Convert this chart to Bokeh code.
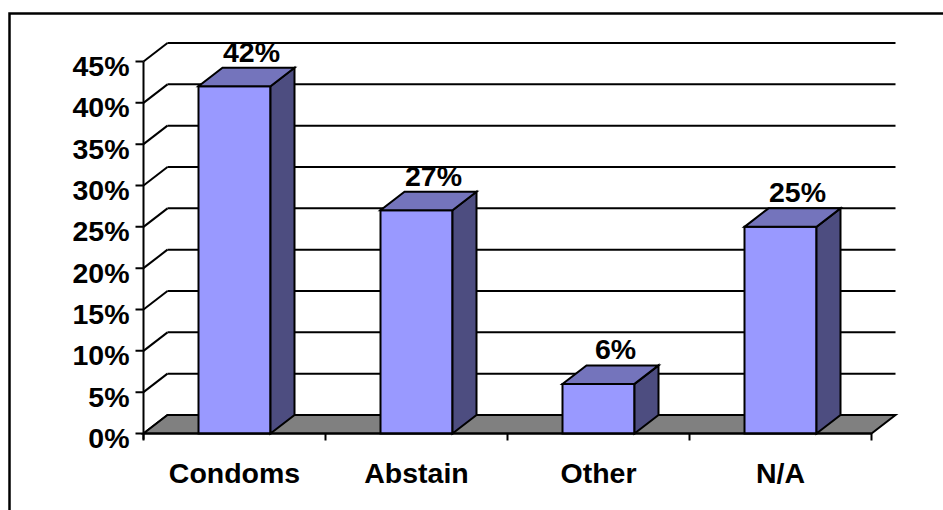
from bokeh.plotting import figure
from bokeh.models import Range1d, ColumnDataSource
from bokeh.core.properties import value
from bokeh.embed import file_html
from bokeh.resources import INLINE

# ---- data ----
categories = ["Condoms", "Abstain", "Other", "N/A"]
values = [42, 27, 6, 25]
value_labels = ["42%", "27%", "6%", "25%"]
y_ticks = [0, 5, 10, 15, 20, 25, 30, 35, 40, 45]
y_tick_labels = ["0%", "5%", "10%", "15%", "20%", "25%", "30%", "35%", "40%", "45%"]

# ---- geometry (pixel-based styling constants) ----
W, H = 943, 510
X0_PX = 143          # frame x of the front value axis
CAT_PX = 182         # pixels per category
Y0_PX = 433          # frame y (from top) of 0 %
PCT_PX = 372 / 45    # pixels per percent
DX = 24 / CAT_PX     # depth offset (x)
DY = 18.5 / PCT_PX   # depth offset (y)
BAR_W = 72 / CAT_PX
N = len(categories)

def px_x(px):
    return px / CAT_PX

def px_y(px):
    return px / PCT_PX

x_range = Range1d(-X0_PX / CAT_PX, (W - X0_PX) / CAT_PX)
y_range = Range1d(-(H - Y0_PX) / PCT_PX, Y0_PX / PCT_PX)

p = figure(width=W, height=H, x_range=x_range, y_range=y_range,
           output_backend="svg", toolbar_location=None,
           x_axis_location=None, y_axis_location=None, min_border=0)
p.grid.visible = False
p.outline_line_color = None
p.background_fill_color = "white"
p.border_fill_color = "white"

FONT = value("Liberation Sans")
BLACK = "black"
LW = 2
FS = "28.5px"

# outer chart-area border (left + top visible)
p.quad(left=[x_range.start + px_x(9)], right=[x_range.end + 1],
       top=[y_range.end - px_y(13)], bottom=[y_range.start - 5],
       fill_color=None, line_color=BLACK, line_width=2.5, line_join="miter")

# back wall gridlines and side-wall diagonals
n_cat = N
p.segment(x0=[DX] * len(y_ticks), y0=[t + DY for t in y_ticks],
          x1=[n_cat + DX] * len(y_ticks), y1=[t + DY for t in y_ticks],
          line_color=BLACK, line_width=LW)
p.segment(x0=[0] * len(y_ticks), y0=y_ticks,
          x1=[DX] * len(y_ticks), y1=[t + DY for t in y_ticks],
          line_color=BLACK, line_width=LW)

# floor
p.patch(x=[0, n_cat, n_cat + DX, DX], y=[0, 0, DY, DY],
        fill_color="#808080", line_color=BLACK, line_width=LW, line_join="miter")

# value labels (drawn before the bars, as in the original)
centers = [i + 0.5 for i in range(N)]
lab_src = ColumnDataSource(dict(
    x=[c + px_x(17) for c in centers],
    y=[v + DY + px_y(16) for v in values],
    text=value_labels))
p.text(x="x", y="y", text="text", source=lab_src, text_font=FONT,
       text_font_size=FS, text_font_style="bold", text_color=BLACK,
       text_align="center", text_baseline="alphabetic")

# bars: front, side, top
fronts = ColumnDataSource(dict(
    left=[c - BAR_W / 2 for c in centers], right=[c + BAR_W / 2 for c in centers],
    top=values, bottom=[0] * N))
p.quad(left="left", right="right", top="top", bottom="bottom", source=fronts,
       fill_color="#9999FF", line_color=BLACK, line_width=LW, line_join="miter")

side_xs, side_ys, top_xs, top_ys = [], [], [], []
for c, v in zip(centers, values):
    l, r = c - BAR_W / 2, c + BAR_W / 2
    side_xs.append([r, r + DX, r + DX, r])
    side_ys.append([0, DY, v + DY, v])
    top_xs.append([l, r, r + DX, l + DX])
    top_ys.append([v, v, v + DY, v + DY])
p.patches(xs=side_xs, ys=side_ys, fill_color="#4D4D80", line_color=BLACK,
          line_width=LW, line_join="miter")
p.patches(xs=top_xs, ys=top_ys, fill_color="#7474BC", line_color=BLACK,
          line_width=LW, line_join="miter")

# front value axis and ticks
p.segment(x0=[0], y0=[-px_y(6)], x1=[0], y1=[max(y_ticks)],
          line_color=BLACK, line_width=LW)
p.segment(x0=[-px_x(8)] * len(y_ticks), y0=y_ticks, x1=[0] * len(y_ticks), y1=y_ticks,
          line_color=BLACK, line_width=LW)
# category boundary ticks
bounds = list(range(N + 1))
p.segment(x0=bounds, y0=[0] * len(bounds), x1=bounds, y1=[-px_y(7)] * len(bounds),
          line_color=BLACK, line_width=LW)
# floor front edge redrawn on top
p.segment(x0=[0], y0=[0], x1=[n_cat], y1=[0], line_color=BLACK, line_width=LW)

# y tick labels
p.text(x=[-px_x(14)] * len(y_ticks), y=[t - px_y(4.5) for t in y_ticks],
       text=y_tick_labels, text_font=FONT, text_font_size=FS,
       text_font_style="bold", text_color=BLACK, text_align="right",
       text_baseline="alphabetic")

# category labels
p.text(x=centers, y=[-px_y(39)] * N, text=categories, text_font=FONT,
       text_font_size=FS, text_font_style="bold", text_color=BLACK,
       text_align="center", text_baseline="alphabetic")

open("out.html", "w").write(file_html(p, INLINE))
